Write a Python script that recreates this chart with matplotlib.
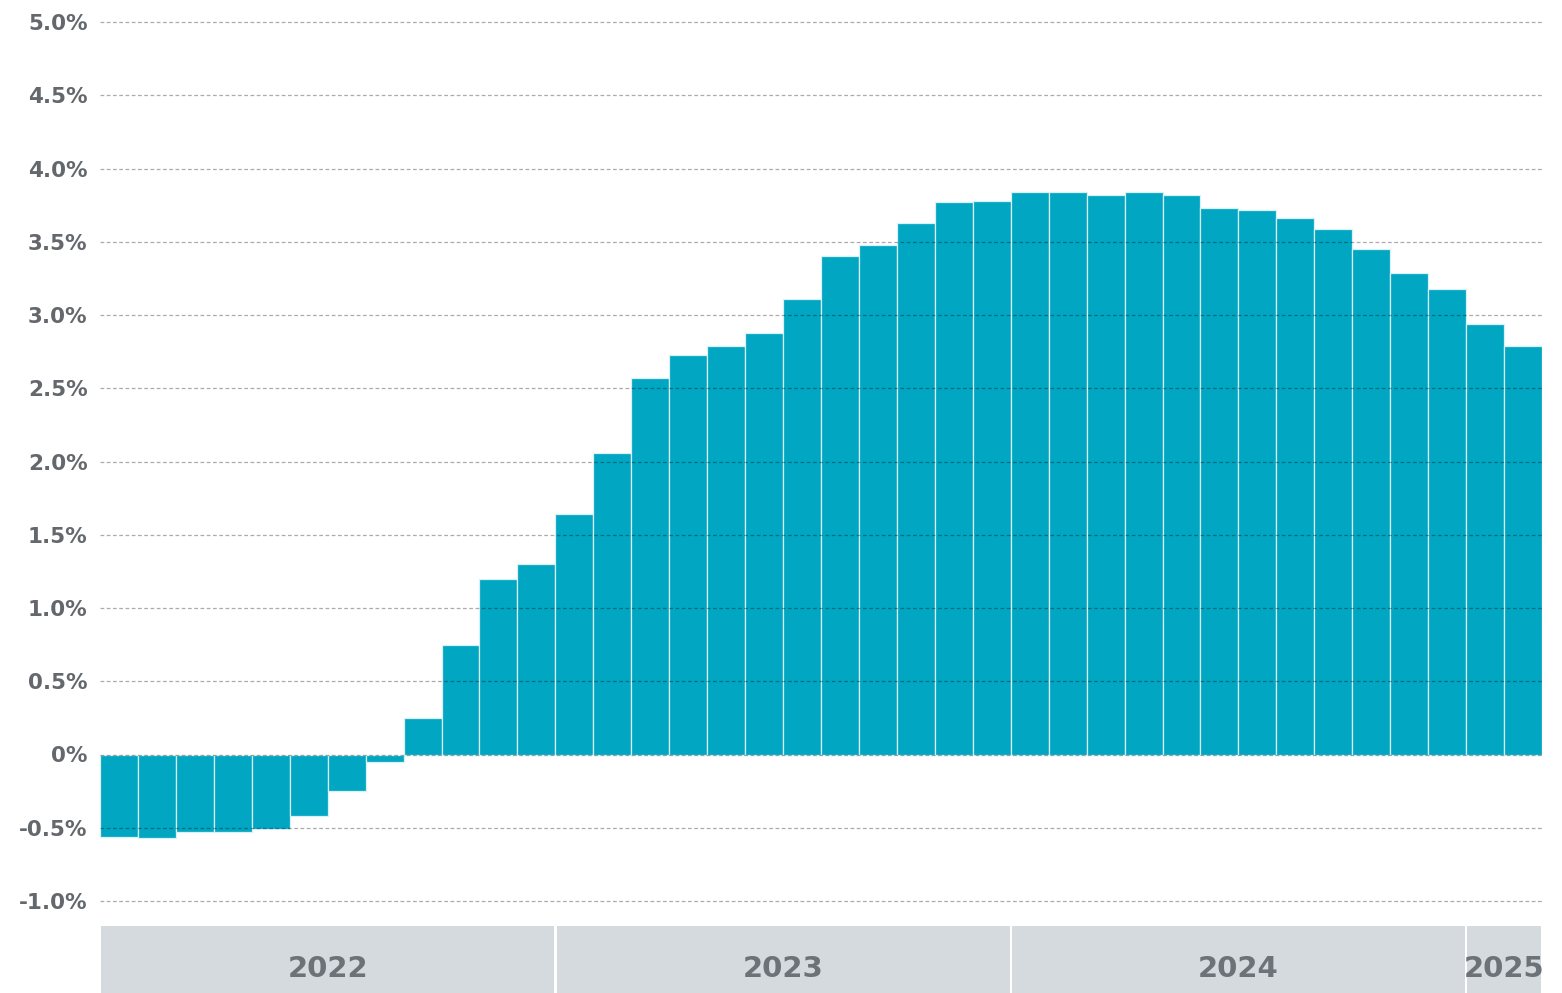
import matplotlib
matplotlib.use("Agg")
import matplotlib.pyplot as plt
from matplotlib.patches import Rectangle

# ---- data ----
months = [f"{y}-{m:02d}" for y in (2022, 2023, 2024) for m in range(1, 13)] + ["2025-01", "2025-02"]
values = [-0.56, -0.57, -0.53, -0.53, -0.51, -0.42, -0.25, -0.05, 0.25, 0.75, 1.20, 1.30,
          1.64, 2.06, 2.57, 2.73, 2.79, 2.88, 3.11, 3.40, 3.48, 3.63, 3.77, 3.78,
          3.84, 3.84, 3.82, 3.84, 3.82, 3.73, 3.72, 3.66, 3.59, 3.45, 3.29, 3.18,
          2.94, 2.79]
years = ["2022", "2023", "2024", "2025"]
months_per_year = [12, 12, 12, 2]
yticks = [-1.0, -0.5, 0.0, 0.5, 1.0, 1.5, 2.0, 2.5, 3.0, 3.5, 4.0, 4.5, 5.0]
ytick_labels = ["-1.0%", "-0.5%", "0%", "0.5%", "1.0%", "1.5%", "2.0%", "2.5%",
                "3.0%", "3.5%", "4.0%", "4.5%", "5.0%"]

W, H = 1562, 993
fig = plt.figure(figsize=(W / 100, H / 100), dpi=100)
fig.patch.set_facecolor("white")

bar_color = "#00a6c2"
text_color = "#64686c"

# main axes
ax = fig.add_axes([100 / W, 1 - 901 / H, 1442 / W, (901 - 22) / H])
x = list(range(len(values)))
ax.bar(x, values, width=1.0, color=bar_color, edgecolor="#d8f1f5", linewidth=0.9, zorder=2)
ax.set_xlim(-0.5, len(values) - 0.5)
ax.set_ylim(-1.0, 5.0)
for yv in yticks:
    ax.axhline(yv, color="black", alpha=0.33, linestyle=(0, (3, 2)), linewidth=0.9, zorder=3,
               clip_on=False)
ax.set_yticks(yticks)
ax.set_yticklabels(ytick_labels, fontsize=15.5, fontweight="bold", color=text_color,
                   family="DejaVu Sans")
ax.tick_params(axis="y", length=0, pad=9)
ax.tick_params(axis="x", length=0, labelbottom=False)
for s in ax.spines.values():
    s.set_visible(False)

# year band axes
bx = fig.add_axes([100 / W, 0, 1442 / W, (993 - 926) / H])
bx.set_xlim(-0.5, len(values) - 0.5)
bx.set_ylim(0, 1)
bx.axis("off")
start = -0.5
for yr, n in zip(years, months_per_year):
    bx.add_patch(Rectangle((start + 0.03, 0), n - 0.06, 1.0, facecolor="#d5dade",
                           edgecolor="none"))
    bx.text(start + n / 2, 0.36, yr, ha="center", va="center", fontsize=21,
            fontweight="bold", color="#6c7278", family="DejaVu Sans")
    start += n

fig.savefig("out.png", dpi=100, facecolor="white")
